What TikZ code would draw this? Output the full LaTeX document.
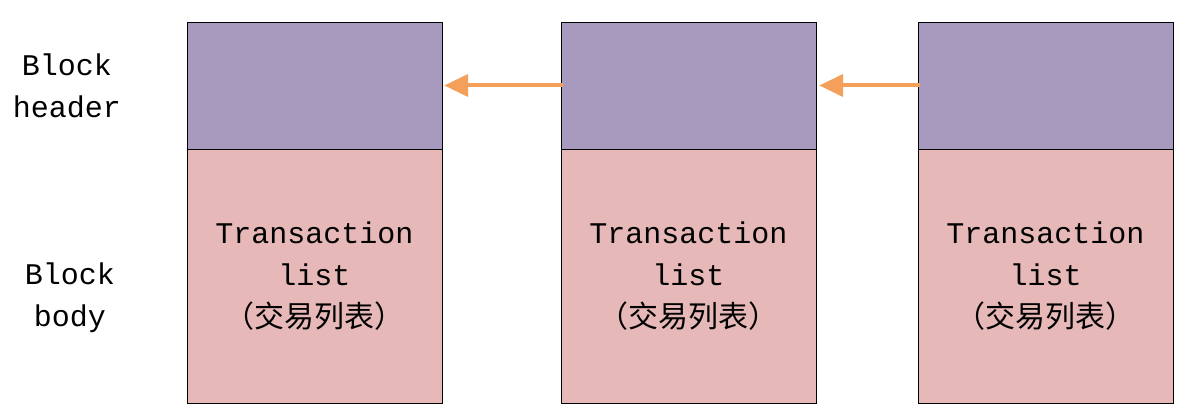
\documentclass[tikz,border=0pt]{standalone}
\usepackage{fontspec}
\setmainfont{Liberation Mono}
\newfontfamily\cjk{Noto Sans CJK SC}
\usetikzlibrary{arrows.meta}
\definecolor{hdr}{RGB}{168,153,190}
\definecolor{bdy}{RGB}{230,184,183}
\definecolor{arr}{RGB}{244,160,90}
\tikzset{
  hbox/.style={draw=black, fill=hdr, minimum width=255pt, minimum height=127pt, inner sep=0pt},
  bbox/.style={draw=black, fill=bdy, minimum width=255pt, minimum height=254pt, inner sep=0pt,
    align=center, font=\fontsize{30}{42}\selectfont},
  lbl/.style={align=center, font=\fontsize{30}{42}\selectfont},
  link/.style={draw=arr, line width=4pt, -{Triangle[length=24pt,width=22pt]}}
}
\begin{document}
\begin{tikzpicture}[x=1pt,y=-1pt]
\useasboundingbox (0,0) rectangle (1179,411);
\node [hbox] (h1) at (314.5,85.5) {};
\node [bbox] (b1) at (314.5,276) {Transaction\\list\\{\cjk （交易列表）}};
\node [hbox] (h2) at (688.5,85.5) {};
\node [bbox] (b2) at (688.5,276) {Transaction\\list\\{\cjk （交易列表）}};
\node [hbox] (h3) at (1045.5,85.5) {};
\node [bbox] (b3) at (1045.5,276) {Transaction\\list\\{\cjk （交易列表）}};
\node [lbl] (lh) at (67,86) {Block\\header};
\node [lbl] (lb) at (70,298) {Block\\body};
\draw [link] ([xshift=2pt]h2.west) -- ([xshift=2pt]h1.east);
\draw [link] ([xshift=2pt]h3.west) -- ([xshift=3pt]h2.east);
\end{tikzpicture}
\end{document}
